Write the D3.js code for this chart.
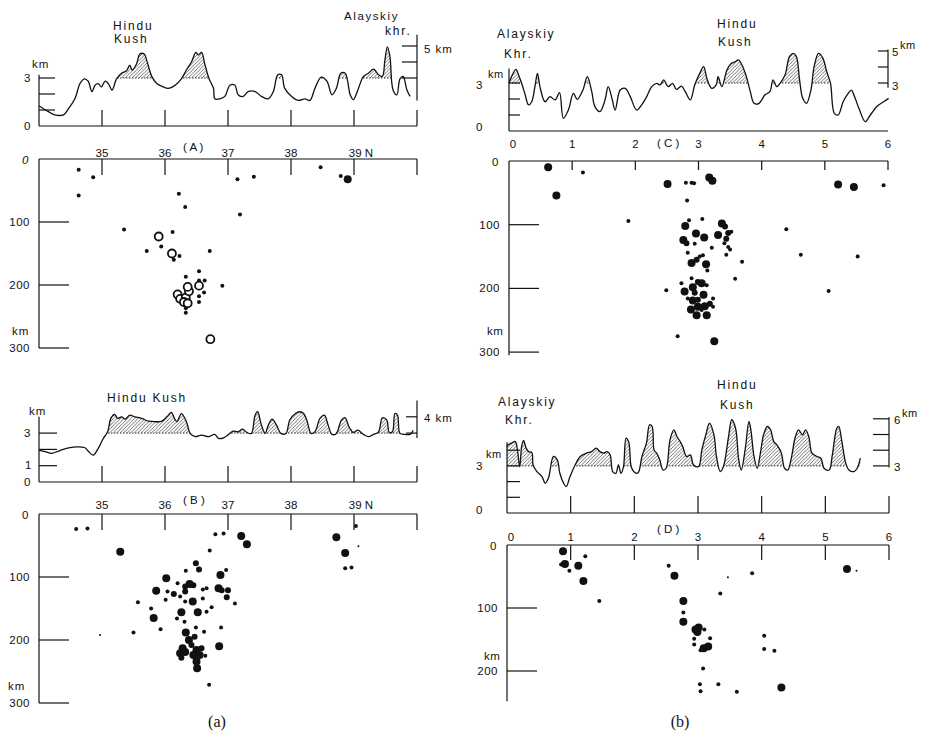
<!DOCTYPE html>
<html>
<head>
<meta charset="utf-8">
<script src="https://cdn.jsdelivr.net/npm/d3@7"></script>
<style>
body { margin: 0; background: #fff; }
text { font-family: "Liberation Sans", Arial, sans-serif; fill: #111; }
</style>
</head>
<body>
<script>
// topography profiles: [position, elevation km]
const topoA = [[34.00,1.25],[34.15,0.9],[34.25,0.7],[34.39,0.7],[34.47,1.1],[34.57,1.7],[34.65,2.65],[34.72,2.95],[34.78,2.8],[34.84,2.15],[34.89,2.55],[34.94,2.65],[34.99,2.45],[35.05,2.8],[35.10,2.65],[35.16,2.25],[35.23,2.95],[35.31,3.3],[35.39,3.45],[35.44,3.8],[35.48,3.5],[35.55,3.9],[35.60,4.5],[35.67,4.5],[35.71,4.1],[35.79,3.1],[35.87,2.65],[35.97,2.45],[36.05,2.35],[36.16,2.55],[36.26,2.95],[36.34,3.5],[36.42,4.0],[36.49,4.6],[36.53,4.45],[36.58,4.6],[36.63,3.9],[36.70,2.95],[36.77,2.35],[36.79,1.7],[36.87,1.7],[36.95,1.85],[37.03,2.55],[37.11,2.55],[37.16,1.95],[37.24,1.85],[37.32,2.15],[37.43,2.15],[37.53,1.85],[37.64,1.7],[37.72,2.15],[37.79,3.2],[37.85,3.2],[37.90,2.35],[38.01,1.85],[38.12,1.6],[38.22,1.7],[38.30,1.6],[38.38,2.35],[38.48,3.05],[38.57,2.8],[38.65,1.95],[38.72,2.35],[38.79,3.3],[38.86,3.3],[38.94,1.95],[38.99,1.65],[39.07,2.35],[39.15,3.1],[39.23,3.3],[39.31,3.55],[39.39,3.2],[39.45,3.1],[39.49,4.1],[39.53,4.95],[39.57,4.35],[39.62,2.25],[39.68,1.95],[39.73,2.95],[39.78,3.1],[39.84,2.25],[39.89,1.85]];
const topoB = [[34.00,1.96],[34.10,1.86],[34.20,1.76],[34.31,1.9],[34.47,2.1],[34.62,2.16],[34.73,2.1],[34.78,1.9],[34.86,1.65],[34.94,2.06],[35.02,2.67],[35.09,3.08],[35.14,3.9],[35.20,4.14],[35.25,3.9],[35.31,4.0],[35.37,3.86],[35.44,4.1],[35.52,4.0],[35.63,3.9],[35.74,3.73],[35.84,3.7],[35.95,3.73],[36.03,4.0],[36.10,4.27],[36.15,3.9],[36.19,3.7],[36.26,4.2],[36.34,3.7],[36.40,2.98],[36.48,2.78],[36.58,2.88],[36.69,2.78],[36.79,2.92],[36.85,2.67],[36.93,2.71],[37.01,2.92],[37.08,3.12],[37.16,3.08],[37.23,3.24],[37.30,3.04],[37.37,2.98],[37.43,4.1],[37.47,4.31],[37.53,3.49],[37.59,2.98],[37.64,3.49],[37.70,3.86],[37.77,3.49],[37.84,2.98],[37.92,2.98],[37.98,3.8],[38.07,4.2],[38.14,4.31],[38.20,4.2],[38.25,3.8],[38.32,2.98],[38.38,3.08],[38.46,3.9],[38.53,4.1],[38.59,3.49],[38.65,2.92],[38.72,2.98],[38.80,3.8],[38.86,3.94],[38.92,3.39],[38.99,3.04],[39.06,3.18],[39.15,2.92],[39.23,2.78],[39.31,2.92],[39.39,3.08],[39.45,3.94],[39.52,3.8],[39.56,3.04],[39.61,3.08],[39.65,4.2],[39.69,4.1],[39.73,2.98],[39.81,2.92],[39.89,2.92],[39.94,3.18]];
const topoC = [[0.00,2.98],[0.04,3.4],[0.11,3.85],[0.16,3.4],[0.20,2.98],[0.25,2.35],[0.31,1.63],[0.36,1.83],[0.41,2.77],[0.45,3.6],[0.49,2.77],[0.57,1.83],[0.65,2.15],[0.73,1.94],[0.80,2.4],[0.86,0.79],[0.94,1.31],[1.02,2.35],[1.08,1.98],[1.17,2.56],[1.24,3.4],[1.31,2.46],[1.36,1.52],[1.44,1.21],[1.52,1.94],[1.57,2.77],[1.63,2.04],[1.68,1.31],[1.76,2.56],[1.84,2.67],[1.92,2.15],[2.02,1.31],[2.10,1.63],[2.18,2.15],[2.26,2.77],[2.34,2.98],[2.39,2.88],[2.45,3.19],[2.52,2.77],[2.59,2.98],[2.65,2.6],[2.73,2.81],[2.79,2.46],[2.87,1.94],[2.94,2.88],[3.02,3.6],[3.08,4.02],[3.14,3.19],[3.21,2.67],[3.28,2.88],[3.31,3.4],[3.37,2.77],[3.45,3.81],[3.51,4.19],[3.58,4.33],[3.63,4.44],[3.68,4.19],[3.75,3.5],[3.82,2.46],[3.88,1.73],[3.96,1.73],[4.05,2.25],[4.13,2.46],[4.18,3.19],[4.24,2.77],[4.29,2.98],[4.37,3.5],[4.44,4.65],[4.50,4.85],[4.55,4.65],[4.60,3.19],[4.65,2.04],[4.71,1.73],[4.78,2.56],[4.83,4.02],[4.90,4.85],[4.97,4.54],[5.03,3.71],[5.09,2.98],[5.15,1.1],[5.21,1.0],[5.29,1.83],[5.37,2.35],[5.42,2.56],[5.48,2.04],[5.55,1.31],[5.64,0.58],[5.72,1.0],[5.82,1.52],[5.93,1.83],[6.01,2.04]];
const topoD = [[0.00,4.23],[0.02,4.34],[0.07,4.45],[0.13,4.55],[0.16,4.13],[0.20,2.96],[0.23,4.23],[0.26,4.62],[0.30,4.13],[0.34,3.91],[0.39,3.85],[0.41,3.06],[0.47,2.64],[0.55,2.32],[0.60,1.89],[0.65,2.21],[0.73,3.6],[0.79,3.38],[0.83,2.53],[0.89,1.89],[0.93,1.68],[0.99,2.32],[1.07,3.06],[1.15,3.6],[1.25,3.81],[1.33,3.91],[1.40,4.13],[1.46,3.91],[1.52,3.81],[1.57,3.91],[1.62,3.7],[1.66,2.64],[1.71,2.53],[1.75,3.06],[1.79,2.53],[1.83,2.96],[1.87,4.77],[1.91,4.55],[1.95,2.96],[1.99,2.64],[2.04,2.53],[2.07,2.64],[2.12,3.6],[2.19,4.45],[2.24,5.62],[2.28,5.51],[2.31,4.02],[2.35,3.81],[2.40,3.38],[2.45,2.74],[2.50,2.85],[2.56,4.66],[2.62,5.3],[2.67,4.87],[2.72,4.55],[2.76,4.23],[2.82,3.6],[2.88,3.7],[2.93,3.06],[3.01,2.96],[3.06,4.02],[3.13,5.09],[3.18,5.72],[3.25,4.98],[3.29,3.6],[3.35,2.64],[3.40,2.96],[3.48,4.87],[3.53,5.94],[3.59,5.4],[3.64,3.38],[3.68,2.74],[3.74,4.02],[3.80,5.83],[3.83,5.3],[3.88,3.6],[3.93,2.85],[3.98,3.81],[4.03,4.98],[4.09,5.51],[4.14,5.3],[4.19,4.55],[4.24,4.34],[4.31,3.81],[4.36,2.85],[4.41,2.74],[4.46,3.38],[4.53,4.87],[4.58,5.3],[4.64,4.98],[4.69,5.3],[4.74,4.87],[4.79,3.81],[4.87,3.6],[4.93,3.49],[4.98,2.85],[5.06,2.74],[5.11,3.7],[5.18,5.4],[5.21,5.51],[5.26,4.55],[5.32,3.17],[5.37,2.74],[5.45,2.64],[5.50,2.85],[5.55,3.49]];

// hypocentres: [position, depth km, size] size 0 tiny, 1 small, 2 medium, 3 large, 4 ring
const quakesA = [[34.63,17,1],[34.86,29,1],[34.63,58,1],[35.35,112,1],[35.90,123,4],[36.12,116,1],[35.94,139,1],[35.71,146,1],[36.11,150,4],[36.14,160,1],[36.23,154,1],[36.22,55,1],[36.32,76,1],[36.71,146,1],[37.15,32,1],[37.41,28,1],[37.19,88,1],[38.47,13,1],[38.79,27,1],[38.90,32,3],[36.33,187,1],[36.54,178,1],[36.54,193,1],[36.63,193,1],[36.91,201,1],[36.62,212,1],[36.54,218,1],[36.54,227,1],[36.33,237,1],[36.33,244,1],[36.20,215,4],[36.24,222,4],[36.33,220,4],[36.38,210,4],[36.36,203,4],[36.30,227,4],[36.36,229,4],[36.54,201,4],[36.72,286,4]];
const quakesB = [[34.59,24,1],[34.77,23,1],[35.29,60,3],[36.80,32,1],[36.93,31,1],[37.21,35,3],[37.30,48,3],[36.71,58,1],[38.72,37,3],[39.03,19,1],[38.86,62,3],[38.86,86,1],[38.96,85,1],[39.07,51,0],[36.49,78,2],[36.54,88,2],[36.33,90,1],[36.97,89,1],[36.88,97,3],[36.02,102,3],[35.86,122,3],[36.04,123,1],[36.14,127,2],[36.01,136,1],[36.24,131,1],[36.20,110,1],[36.32,115,2],[36.39,111,3],[36.45,113,2],[36.32,123,2],[36.60,120,1],[36.66,118,1],[36.60,134,1],[36.85,118,3],[36.90,121,2],[37.00,121,2],[36.98,132,2],[37.11,142,1],[36.44,139,3],[36.32,139,1],[35.57,140,1],[35.78,150,1],[35.82,165,3],[35.93,183,1],[35.50,188,1],[36.26,156,3],[36.52,156,3],[36.19,166,1],[36.31,171,1],[36.66,155,1],[36.74,148,1],[36.89,180,1],[36.86,210,3],[36.49,180,1],[36.62,187,1],[36.33,188,3],[36.38,200,3],[36.47,195,2],[36.28,213,3],[36.24,221,3],[36.32,219,3],[36.42,208,2],[36.50,216,3],[36.58,213,2],[36.45,224,3],[36.55,224,3],[36.64,225,1],[36.50,234,3],[36.51,245,3],[36.26,228,2],[36.70,271,1],[34.97,192,0]];
const quakesC = [[0.62,10,3],[0.75,54,3],[1.17,18,1],[2.51,36,3],[2.80,34,1],[2.89,34,1],[2.93,35,1],[2.82,62,1],[1.89,94,1],[5.21,37,3],[5.46,41,3],[5.93,38,1],[4.39,107,1],[4.62,147,1],[5.52,150,1],[5.06,204,1],[2.49,203,1],[2.67,275,1],[3.25,283,3],[3.69,158,1],[3.58,185,1],[3.17,26,3],[3.22,31,3],[2.85,93,1],[3.06,91,1],[2.79,102,3],[2.96,114,3],[3.09,120,3],[2.76,124,3],[2.81,129,2],[2.94,130,1],[3.21,136,1],[2.83,144,1],[3.37,98,3],[3.42,103,2],[3.31,116,3],[3.47,113,2],[3.52,111,1],[3.44,122,2],[3.41,129,1],[3.47,135,1],[3.50,139,1],[3.44,147,1],[3.07,148,1],[2.89,160,3],[2.97,155,2],[3.02,150,1],[3.12,162,3],[3.14,172,1],[2.73,192,1],[2.89,184,1],[2.99,190,2],[3.05,192,3],[3.13,195,1],[2.91,198,3],[2.78,205,3],[2.94,207,2],[3.08,210,3],[3.23,216,1],[2.83,216,1],[2.91,219,3],[2.99,218,2],[3.18,224,2],[3.23,229,1],[3.10,228,3],[2.99,229,3],[2.88,233,3],[2.97,242,3],[3.13,242,3],[3.05,234,1]];
const quakesD = [[0.88,10,3],[0.91,30,3],[0.85,31,1],[0.98,41,1],[1.12,33,3],[1.23,18,1],[1.20,57,3],[1.45,89,1],[2.54,33,1],[2.63,49,3],[2.77,89,3],[2.77,107,1],[2.77,122,3],[2.94,149,1],[2.94,158,1],[2.96,134,3],[3.01,131,3],[2.99,138,3],[3.10,134,1],[3.19,148,1],[3.09,164,3],[3.16,161,3],[3.04,167,1],[3.08,196,1],[3.03,221,1],[3.04,232,1],[3.32,221,1],[3.61,233,1],[3.35,77,1],[3.47,51,0],[3.85,45,1],[4.04,144,1],[4.04,165,1],[4.20,168,1],[4.31,226,3],[5.34,38,3],[5.49,41,0]];

// tick labels
const latTicks = [35, 36, 37, 38, 39, 40];
const latLabels = ["35", "36", "37", "38", "39 N"];
const distTicks = [0, 1, 2, 3, 4, 5, 6];
const depthTicks = [100, 200, 300];

const svg = d3.select("body").append("svg")
    .attr("width", 925)
    .attr("height", 734);

const ink = "#111";
const defs = svg.append("defs");
defs.append("pattern")
    .attr("id", "hatch")
    .attr("patternUnits", "userSpaceOnUse")
    .attr("width", 3.5)
    .attr("height", 3.5)
    .append("path")
    .attr("d", "M-1,1 l2,-2 M0,3.5 l3.5,-3.5 M2.5,4.5 l2,-2")
    .attr("stroke", "#333")
    .attr("stroke-width", 0.7);

function txt(x, y, s, opts = {}) {
    const t = svg.append("text")
        .attr("x", x)
        .attr("y", y)
        .attr("font-size", opts.size || 11)
        .attr("text-anchor", opts.anchor || "start")
        .text(s);
    if (opts.ls) t.attr("letter-spacing", opts.ls);
    if (opts.italic) t.attr("font-style", "italic");
    if (opts.family) t.style("font-family", opts.family);
    return t;
}

function seg(x1, y1, x2, y2, w = 1.2) {
    svg.append("line")
        .attr("x1", x1).attr("y1", y1)
        .attr("x2", x2).attr("y2", y2)
        .attr("stroke", ink)
        .attr("stroke-width", w);
}

function drawPanel(c) {
    const x = d3.scaleLinear().domain(c.domain).range([c.x0, c.x1]);
    const yT = d3.scaleLinear().domain([0, 6]).range([c.base, c.base - 6 * c.kmPx]);
    const yD = d3.scaleLinear().domain([0, 300]).range([c.dTop, c.dTop + 300 * c.dPx]);
    const y3 = yT(3);

    // ---- topography ----
    const clipAbove = "above" + c.id, clipHatch = "hz" + c.id;
    defs.append("clipPath").attr("id", clipAbove)
        .append("rect")
        .attr("x", c.x0).attr("y", 0)
        .attr("width", c.x1 - c.x0).attr("height", y3);
    const hatchArea = d3.area()
        .x(d => x(d[0]))
        .y0(y3 + 1)
        .y1(d => yT(d[1]))
        .curve(d3.curveCatmullRom);
    defs.append("clipPath").attr("id", clipHatch)
        .append("path")
        .attr("d", hatchArea(c.topo));
    svg.append("g").attr("clip-path", "url(#" + clipAbove + ")")
        .append("path")
        .attr("d", hatchArea(c.topo))
        .attr("fill", "url(#hatch)");
    svg.append("g").attr("clip-path", "url(#" + clipHatch + ")")
        .append("line")
        .attr("x1", c.x0).attr("x2", c.x1)
        .attr("y1", y3).attr("y2", y3)
        .attr("stroke", "#333")
        .attr("stroke-width", 1)
        .attr("stroke-dasharray", "1.5,1.5");

    const line = d3.line()
        .x(d => x(d[0]))
        .y(d => yT(d[1]))
        .curve(d3.curveCatmullRom);
    svg.append("path")
        .attr("d", line(c.topo))
        .attr("fill", "none")
        .attr("stroke", ink)
        .attr("stroke-width", 1.3);

    // frame of the profile
    seg(c.x0, c.base, c.x1, c.base);
    seg(c.x0, c.base, c.x0, yT(c.leftTop));
    c.leftTicks.forEach(k => seg(c.x0, yT(k), c.x0 + c.lTick, yT(k)));
    seg(c.x1, yT(c.rightAxis[0]), c.x1, yT(c.rightAxis[1]));
    c.rightTicks.forEach(k => seg(c.x1 - c.rTick, yT(k), c.x1, yT(k)));
    c.baseTicks.forEach(v => seg(x(v), c.base, x(v), c.base - c.bTick));

    // ---- depth section ----
    seg(c.x0, c.dTop, c.x1, c.dTop);
    seg(c.x0, c.dTop, c.x0, yD(c.dMax));
    c.topTicks.forEach(v => seg(x(v), c.dTop, x(v), c.dTop + c.tTick));
    c.dTicks.forEach(k => seg(c.x0, yD(k), c.x0 + 30, yD(k)));
    c.dTicks.forEach(k => txt(c.x0 - 9, yD(k) + 4, String(k), {anchor: "end", size: 11.5, ls: 0.5}));
    txt(c.x0 - 17, c.dTop + 5, "0", {italic: c.italic0, size: 11.5});

    const rr = [1, 2, 3, 4, 4];
    svg.append("g").selectAll("circle")
        .data(c.quakes)
        .join("circle")
        .attr("cx", d => x(d[0]))
        .attr("cy", d => yD(d[1]))
        .attr("r", d => rr[d[2]])
        .attr("fill", d => d[2] == 4 ? "#fff" : ink)
        .attr("stroke", d => d[2] == 4 ? ink : "none")
        .attr("stroke-width", 1.8);

    // position labels above the depth section
    c.tickVals.forEach((v, i) => {
        txt(x(v) + (c.labDx ? c.labDx[i] : 0), c.labY, c.tickLabels[i], {anchor: "middle", size: 11.5});
    });
}

// panel A
drawPanel({
    id: "A", domain: [34, 40], x0: 39, x1: 417,
    topo: topoA, base: 126, kmPx: 16, leftTop: 3.2, leftTicks: [1, 2, 3], lTick: 16,
    rightAxis: [1.6, 5.7], rightTicks: [3, 4, 5], rTick: 15, baseTicks: latTicks, bTick: 16,
    dTop: 159, dPx: 0.63, dMax: 300, dTicks: depthTicks, topTicks: latTicks, tTick: 16,
    quakes: quakesA, tickVals: [35, 36, 37, 38, 39], tickLabels: latLabels,
    labDx: [0, 0, 0, 0, 7], labY: 157, italic0: true
});
// panel B
drawPanel({
    id: "B", domain: [34, 40], x0: 39, x1: 417,
    topo: topoB, base: 482, kmPx: 16.3, leftTop: 4, leftTicks: [1, 2, 3], lTick: 18,
    rightAxis: [2.7, 5.0], rightTicks: [3, 4], rTick: 11, baseTicks: latTicks, bTick: 16,
    dTop: 514, dPx: 0.63, dMax: 300, dTicks: depthTicks, topTicks: latTicks, tTick: 16,
    quakes: quakesB, tickVals: [35, 36, 37, 38, 39], tickLabels: latLabels,
    labDx: [0, 0, 0, 0, 7], labY: 509, italic0: false
});
// panel C
drawPanel({
    id: "C", domain: [0, 6], x0: 509, x1: 888,
    topo: topoC, base: 131, kmPx: 16, leftTop: 3.9, leftTicks: [1, 2, 3], lTick: 11,
    rightAxis: [2.7, 5.1], rightTicks: [3, 4, 5], rTick: 10, baseTicks: [], bTick: 0,
    dTop: 161, dPx: 0.637, dMax: 305, dTicks: depthTicks, topTicks: [1, 2, 3, 4, 5, 6], tTick: 9,
    quakes: quakesC, tickVals: distTicks, tickLabels: distTicks.map(String),
    labDx: [4, 0, 0, 0, 0, 0, 0], labY: 148, italic0: false
});
// panel D
drawPanel({
    id: "D", domain: [0, 6], x0: 507, x1: 889,
    topo: topoD, base: 513, kmPx: 15.7, leftTop: 4.5, leftTicks: [1, 2, 3, 4], lTick: 13,
    rightAxis: [2.9, 6.1], rightTicks: [3, 4, 5, 6], rTick: 16, baseTicks: [1, 2, 3, 4, 5, 6], bTick: 17,
    dTop: 545, dPx: 0.63, dMax: 248, dTicks: [100, 200], topTicks: [1, 2, 3, 4, 5, 6], tTick: 15,
    quakes: quakesD, tickVals: distTicks, tickLabels: distTicks.map(String),
    labDx: [4, 0, 0, 0, 0, 0, 0], labY: 541, italic0: false
});

// ---- annotations ----
const lab = {size: 12, ls: 1.8};
// A
txt(113, 30, "Hindu", lab);
txt(114, 43, "Kush", lab);
txt(344, 20, "Alayskiy", {size: 11.5, ls: 1.6});
txt(385, 35, "khr.", lab);
txt(32, 68, "km", {size: 11.5, ls: 1});
txt(24, 82, "3", {size: 11.5});
txt(24, 130, "0", {size: 11.5});
txt(424, 53, "5  km", {size: 11.5, ls: 1});
txt(183, 151, "( A )", {size: 11.5});
txt(12, 335, "km", {size: 11.5, ls: 1});
// B
txt(107, 402, "Hindu Kush", lab);
txt(29, 415, "km", {size: 11.5, ls: 1});
txt(24, 437, "3", {size: 11.5});
txt(25, 469, "1", {size: 11.5});
txt(24, 486, "0", {size: 11.5});
txt(424, 422, "4  km", {size: 11.5, ls: 1});
txt(183, 504, "( B )", {size: 11.5});
txt(8, 690, "km", {size: 11.5, ls: 1});
txt(217, 727, "(a)", {size: 16, anchor: "middle", family: "'Liberation Serif', 'DejaVu Serif', serif"});
// C
txt(497, 38, "Alayskiy", lab);
txt(504, 58, "Khr.", lab);
txt(488, 78, "km", {size: 11, ls: 0.5});
txt(476, 89, "3", {size: 11.5});
txt(476, 131, "0", {size: 11.5});
txt(717, 28, "Hindu", lab);
txt(718, 46, "Kush", lab);
txt(892, 56, "5", {size: 11.5});
txt(900, 49, "km", {size: 11, ls: 0.5});
txt(892, 90, "3", {size: 11.5});
txt(657, 147, "( C )", {size: 11.5});
txt(487, 335, "km", {size: 11.5, ls: 0.5});
// D
txt(498, 406, "Alayskiy", lab);
txt(505, 424, "Khr.", lab);
txt(486, 458, "km", {size: 11, ls: 0.5});
txt(476, 470, "3", {size: 11.5});
txt(476, 514, "0", {size: 11.5});
txt(717, 389, "Hindu", lab);
txt(720, 409, "Kush", lab);
txt(894, 424, "6", {size: 11.5});
txt(902, 417, "km", {size: 11, ls: 0.5});
txt(894, 471, "3", {size: 11.5});
txt(657, 533, "( D )", {size: 11.5});
txt(484, 660, "km", {size: 11.5, ls: 0.5});
txt(680, 727, "(b)", {size: 16, anchor: "middle", family: "'Liberation Serif', 'DejaVu Serif', serif"});
</script>
</body>
</html>
